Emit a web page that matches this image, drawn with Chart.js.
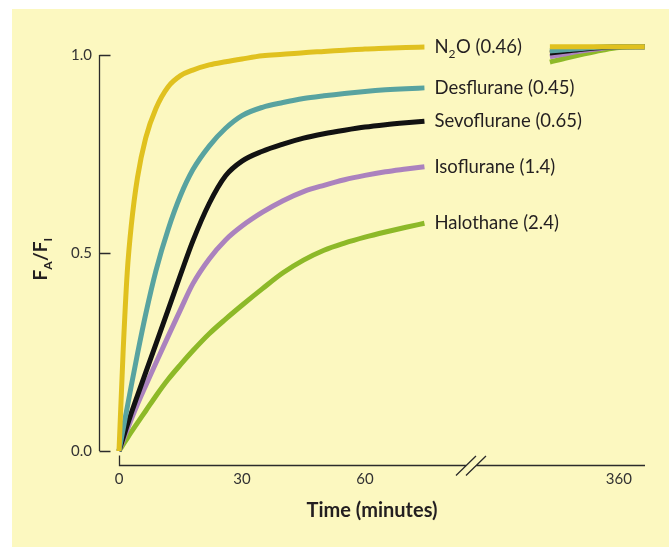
<!DOCTYPE html>
<html>
<head>
<meta charset="utf-8">
<script src="https://cdn.jsdelivr.net/npm/chart.js@4.4.1/dist/chart.umd.min.js"></script>
<style>
    html, body { margin: 0; padding: 0; background: #fff; }
    .chart-container { position: absolute; left: 12px; top: 9px; width: 657px; height: 538px; background: #fcf8c0; }
</style>
</head>
<body>
<div class="chart-container"><canvas class="chart" width="657" height="538"></canvas></div>
<script>

// early uptake, minutes 0 - 74.5
const minutes    = [ 0, 1, 2, 3, 4.5, 6.5, 9, 12, 15, 18, 22, 26, 30, 35, 40, 45, 50, 55, 60, 65, 70, 74.5 ];
const n2o        = [ 0, 0.25, 0.45, 0.57, 0.69, 0.79, 0.865, 0.92, 0.948, 0.962, 0.975, 0.983, 0.99, 0.998, 1.002, 1.006, 1.009, 1.012, 1.015, 1.017, 1.019, 1.02 ];
const desflurane = [ 0, 0.055, 0.11, 0.165, 0.245, 0.345, 0.455, 0.56, 0.645, 0.71, 0.77, 0.815, 0.847, 0.868, 0.88, 0.89, 0.897, 0.903, 0.908, 0.912, 0.915, 0.917 ];
const sevoflurane = [ 0, 0.033, 0.065, 0.096, 0.14, 0.198, 0.27, 0.357, 0.445, 0.53, 0.625, 0.695, 0.732, 0.757, 0.775, 0.79, 0.801, 0.81, 0.818, 0.824, 0.829, 0.833 ];
const isoflurane = [ 0, 0.027, 0.054, 0.08, 0.118, 0.165, 0.222, 0.29, 0.357, 0.422, 0.485, 0.533, 0.568, 0.603, 0.632, 0.655, 0.671, 0.685, 0.696, 0.705, 0.712, 0.718 ];
const halothane  = [ 0, 0.016, 0.032, 0.048, 0.071, 0.101, 0.139, 0.181, 0.218, 0.253, 0.296, 0.333, 0.368, 0.41, 0.45, 0.482, 0.507, 0.525, 0.54, 0.553, 0.565, 0.575 ];

// late part, right of the axis break
const lateMinutes     = [ 200, 240, 280, 320, 360, 420 ];
const n2oLate         = [ 1.021, 1.021, 1.021, 1.021, 1.021, 1.021 ];
const desfluraneLate  = [ 1.01, 1.014, 1.017, 1.02, 1.021, 1.021 ];
const sevofluraneLate = [ 1.005, 1.01, 1.015, 1.019, 1.021, 1.021 ];
const isofluraneLate  = [ 0.996, 1.004, 1.011, 1.017, 1.021, 1.021 ];
const halothaneLate   = [ 0.982, 0.993, 1.003, 1.012, 1.019, 1.021 ];

const seriesNames = [ 'N_2O (0.46)', 'Desflurane (0.45)', 'Sevoflurane (0.65)', 'Isoflurane (1.4)', 'Halothane (2.4)' ];
const seriesColors = [ '#e0c11f', '#58a3a0', '#121212', '#ab82be', '#8db928' ];

const xTicks = [ 0, 30, 60, 360 ];
const yTicks = [ 0, 0.5, 1.0 ];

// broken time axis: linear up to the break, compressed after it
const LATE_FROM = 200;
const LATE_AXIS = 105.1;
const LATE_SCALE = 0.1052;
const AXIS_BREAK = 85.85;

const toAxis = t => t < LATE_FROM ? t : LATE_AXIS + ( t - LATE_FROM ) * LATE_SCALE;

const FONT = 'Lato, "Noto Sans", sans-serif';
const INK = '#231f20';

function drawRich ( ctx, text, x, y, size, weight ) {

    // '_' marks the next character as subscript
    const runs = [];
    for ( let i = 0; i < text.length; i++ ) {
        if ( text[ i ] === '_' ) { runs.push( [ text[ ++i ], true ] ); continue; }
        if ( runs.length && ! runs[ runs.length - 1 ][ 1 ] ) runs[ runs.length - 1 ][ 0 ] += text[ i ];
        else runs.push( [ text[ i ], false ] );
    }

    let cx = x;
    for ( const [ str, sub ] of runs ) {
        ctx.font = `${ weight } ${ sub ? Math.round( size * 0.65 ) : size }px ${ FONT }`;
        ctx.fillText( str, cx, sub ? y + size * 0.25 : y );
        cx += ctx.measureText( str ).width + ( sub ? 0.5 : 0 );
    }
    return cx - x;

}

const decorations = {
    id: 'decorations',
    afterDraw ( chart ) {

        const { ctx, chartArea, scales: { x, y } } = chart;
        ctx.save();
        ctx.strokeStyle = '#2b2b2b';
        ctx.lineWidth = 1.3;

        // y axis with inward ticks
        const ax = Math.round( chartArea.left ) + 0.5;
        ctx.beginPath();
        ctx.moveTo( ax, y.getPixelForValue( 1 ) );
        ctx.lineTo( ax, y.getPixelForValue( 0 ) );
        yTicks.forEach( v => {
            const py = Math.round( y.getPixelForValue( v ) ) + 0.5;
            ctx.moveTo( ax, py );
            ctx.lineTo( ax + 11, py );
        } );

        // x axis, broken
        const ay = Math.round( chartArea.bottom ) + 0.5;
        const x0 = Math.round( x.getPixelForValue( 0 ) ) + 0.5;
        const xb = x.getPixelForValue( AXIS_BREAK );
        ctx.moveTo( x0, ay - 10 );
        ctx.lineTo( x0, ay );
        ctx.lineTo( xb - 5, ay );
        ctx.moveTo( xb + 5, ay );
        ctx.lineTo( chartArea.right, ay );
        [ -5, 5 ].forEach( d => {
            ctx.moveTo( xb + d - 10, ay + 10 );
            ctx.lineTo( xb + d + 10, ay - 9.5 );
        } );
        ctx.stroke();

        // y title F_A/F_I
        ctx.fillStyle = INK;
        ctx.textBaseline = 'alphabetic';
        ctx.textAlign = 'left';
        ctx.save();
        ctx.translate( chartArea.left - 52, ( y.getPixelForValue( 0 ) + y.getPixelForValue( 1 ) ) / 2 + 6 );
        ctx.rotate( -Math.PI / 2 );
        const off = document.createElement( 'canvas' ).getContext( '2d' );
        const w = drawRich( off, 'F_A/F_I', 0, 0, 19, 'bold' );
        drawRich( ctx, 'F_A/F_I', -w / 2, 0, 19, 'bold' );
        ctx.restore();

        // direct series labels
        chart.data.datasets.forEach( ( ds, i ) => {
            const last = ds.data[ minutes.length - 1 ];
            const px = x.getPixelForValue( last.x ) + 10;
            const py = y.getPixelForValue( last.y ) + 6;
            drawRich( ctx, seriesNames[ i ], px, py, 18.5, 'normal' );
        } );

        ctx.restore();

    }
};

function renderUptakeChart ( ctx ) {

    const early = [ n2o, desflurane, sevoflurane, isoflurane, halothane ];
    const late = [ n2oLate, desfluraneLate, sevofluraneLate, isofluraneLate, halothaneLate ];

    const datasets = early.map( ( values, i ) => ( {
        label: seriesNames[ i ],
        data: [
            ...minutes.map( ( t, j ) => ( { x: toAxis( t ), y: values[ j ] } ) ),
            { x: AXIS_BREAK, y: null },
            ...lateMinutes.map( ( t, j ) => ( { x: toAxis( t ), y: late[ i ][ j ] } ) )
        ],
        borderColor: seriesColors[ i ],
        borderWidth: 5,
        pointRadius: 0,
        cubicInterpolationMode: 'monotone',
        spanGaps: false
    } ) );

    new Chart( ctx, {
        type: 'line',
        data: { datasets },
        options: {
            layout: { padding: { left: 0, top: 31, right: 24, bottom: 0 } },
            plugins: { legend: { display: false }, tooltip: { enabled: false } },
            scales: {
                x: {
                    type: 'linear',
                    min: -4.88,
                    max: 128.3,
                    afterFit: s => { s.height = 82; },
                    afterBuildTicks: s => { s.ticks = xTicks.map( t => ( { value: toAxis( t ) } ) ); },
                    ticks: {
                        autoSkip: false,
                        maxRotation: 0,
                        padding: 5,
                        color: '#333',
                        font: { size: 15 },
                        callback: ( v, i ) => String( xTicks[ i ] )
                    },
                    grid: { display: false, drawTicks: false },
                    border: { display: false },
                    title: {
                        display: true,
                        text: 'Time (minutes)',
                        color: INK,
                        font: { size: 20, weight: 'bold' },
                        padding: { top: 0, bottom: 24 }
                    }
                },
                y: {
                    min: -0.0354,
                    max: 1.0379,
                    afterFit: s => { s.width = 87; },
                    afterBuildTicks: s => { s.ticks = yTicks.map( v => ( { value: v } ) ); },
                    ticks: {
                        padding: 7,
                        color: '#333',
                        font: { size: 15 },
                        callback: v => v.toFixed( 1 )
                    },
                    grid: { display: false, drawTicks: false },
                    border: { display: false }
                }
            }
        },
        plugins: [ decorations ]
    } );

}

document.addEventListener( 'DOMContentLoaded', function () {

    Chart.defaults.responsive = false;
    Chart.defaults.animation = false;
    Chart.defaults.font.family = FONT;
    Chart.defaults.color = INK;

    renderUptakeChart( document.querySelector( '.chart' ) );

} );

</script>
</body>
</html>
